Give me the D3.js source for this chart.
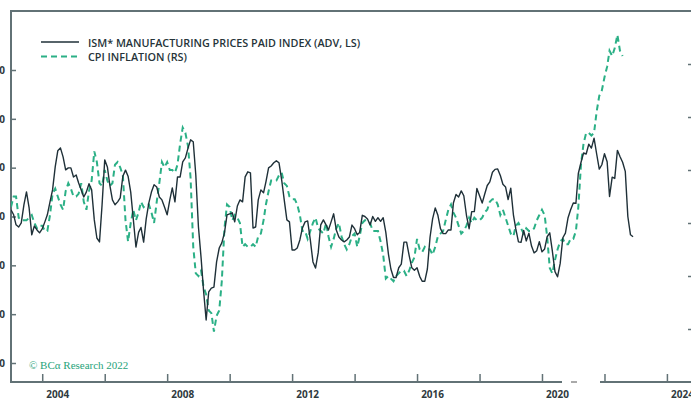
<!DOCTYPE html>
<html>
<head>
<meta charset="utf-8">
<script src="https://cdn.jsdelivr.net/npm/d3@7"></script>
<style>
  body { margin: 0; background: #fff; }
  svg { display: block; }
</style>
</head>
<body>
<div id="chart"></div>
<script>
// Monthly data, both series start Jan 2003
const seriesStart = new Date(2003, 0, 1);

// ISM manufacturing prices paid, advanced 3 months (left scale)
const ismValues = [
  62.7, 60.7, 56.6, 55.7, 57.4, 64.8, 70.1, 63.5, 52.5, 56.1, 54.5, 53.3,
  54.9, 57.8, 60.7, 66.0, 70.9, 80.3, 86.9, 88.1, 84.4, 79.1, 79.9, 79.9,
  76.2, 77.0, 73.8, 70.9, 68.0, 70.1, 73.4, 70.9, 58.6, 51.2, 49.6, 64.8,
  83.2, 80.3, 73.0, 66.8, 64.8, 66.0, 67.6, 76.5, 79.0, 76.5, 70.0, 59.0,
  47.5, 53.5, 55.5, 49.5, 59.0, 65.6, 70.0, 73.0, 72.1, 68.0, 66.8, 63.9,
  60.7, 66.8, 71.7, 66.0, 76.2, 76.2, 82.4, 84.0, 88.0, 91.4, 90.6, 77.0,
  55.7, 43.0, 29.9, 17.6, 29.1, 30.7, 31.1, 41.4, 47.1, 49.2, 53.3, 60.7,
  61.1, 61.5, 57.8, 64.3, 66.8, 66.0, 76.2, 78.3, 77.9, 55.3, 55.7, 66.8,
  70.9, 69.7, 74.2, 79.9, 80.7, 82.0, 82.8, 82.0, 75.0, 66.8, 58.6, 57.8,
  46.3, 46.3, 47.1, 50.4, 55.3, 57.8, 58.2, 50.4, 41.4, 38.9, 45.1, 56.6,
  58.6, 56.6, 54.5, 57.8, 61.1, 54.5, 51.6, 50.4, 49.6, 50.4, 51.6, 56.5,
  55.0, 52.5, 53.5, 60.5, 60.0, 59.0, 56.5, 60.0, 58.0, 59.5, 58.0, 59.5,
  53.5, 44.5, 38.5, 35.0, 35.0, 39.0, 40.5, 49.5, 49.5, 44.0, 39.0, 38.0,
  39.0, 35.5, 33.5, 33.5, 38.5, 51.5, 59.0, 63.5, 60.5, 55.0, 53.0, 53.0,
  54.5, 54.5, 65.5, 69.0, 68.0, 70.5, 68.5, 60.5, 55.0, 62.0, 62.0, 71.5,
  68.5, 65.5, 69.0, 72.7, 74.2, 78.1, 79.3, 79.5, 76.8, 73.2, 72.1, 66.9,
  71.6, 60.7, 54.9, 49.6, 49.4, 54.3, 50.0, 53.2, 47.9, 45.1, 46.0, 49.7,
  45.5, 46.7, 51.7, 53.3, 45.9, 37.4, 35.3, 40.8, 51.3, 53.2, 59.5, 62.8,
  65.5, 65.4, 77.6, 82.1, 86.0, 85.6, 89.6, 88.0, 92.1, 85.7, 79.4, 81.2,
  85.7, 82.4, 68.2, 76.1, 75.6, 87.1, 84.6, 82.2, 78.5, 60.0, 52.5, 51.7
];

// CPI inflation, % y/y (right scale)
const cpiValues = [
  2.6, 3.0, 3.0, 2.2, 2.1, 2.1, 2.1, 2.2, 2.3, 2.0, 1.8, 1.9,
  1.9, 1.7, 1.7, 2.3, 3.1, 3.3, 3.0, 2.7, 2.5, 3.2, 3.5, 3.3,
  3.0, 3.0, 3.1, 3.5, 2.8, 2.5, 3.2, 3.6, 4.7, 4.3, 3.5, 3.4,
  4.0, 3.6, 3.4, 3.5, 4.2, 4.3, 4.1, 3.8, 2.1, 1.3, 2.0, 2.5,
  2.1, 2.4, 2.8, 2.6, 2.7, 2.7, 2.4, 2.0, 2.8, 3.5, 4.3, 4.1,
  4.3, 4.0, 4.0, 3.9, 4.2, 5.0, 5.6, 5.4, 4.9, 3.7, 1.1, 0.1,
  0.0, 0.2, -0.4, -0.7, -1.3, -1.4, -2.1, -1.5, -1.3, -0.2, 1.8, 2.7,
  2.6, 2.1, 2.3, 2.2, 2.0, 1.1, 1.2, 1.1, 1.1, 1.2, 1.1, 1.5,
  1.6, 2.1, 2.7, 3.2, 3.6, 3.6, 3.6, 3.8, 3.9, 3.5, 3.4, 3.0,
  2.9, 2.9, 2.7, 2.3, 1.7, 1.7, 1.4, 1.7, 2.0, 2.2, 1.8, 1.7,
  1.6, 2.0, 1.5, 1.1, 1.4, 1.8, 2.0, 1.5, 1.2, 1.0, 1.2, 1.5,
  1.6, 1.1, 1.5, 2.0, 2.1, 2.1, 2.0, 1.7, 1.7, 1.7, 1.3, 0.8,
  -0.1, 0.0, -0.1, -0.2, 0.0, 0.1, 0.2, 0.2, 0.0, 0.2, 0.5, 0.7,
  1.4, 1.0, 0.9, 1.1, 1.0, 1.0, 0.8, 1.1, 1.5, 1.6, 1.7, 2.1,
  2.5, 2.7, 2.4, 2.2, 1.9, 1.6, 1.7, 1.9, 2.2, 2.0, 2.2, 2.1,
  2.1, 2.2, 2.4, 2.5, 2.8, 2.9, 2.9, 2.7, 2.3, 2.5, 2.2, 1.9,
  1.6, 1.5, 1.9, 2.0, 1.8, 1.6, 1.8, 1.7, 1.7, 1.8, 2.1, 2.3,
  2.5, 2.3, 1.5, 0.3, 0.1, 0.6, 1.0, 1.3, 1.4, 1.2, 1.2, 1.4,
  1.4, 1.7, 2.6, 4.2, 5.0, 5.4, 5.4, 5.3, 5.4, 6.2, 6.8, 7.0,
  7.5, 7.9, 8.5, 8.3, 8.6, 9.1, 8.5, 8.3
];

const leftTicks = [0, 20, 40, 60, 80, 100, 120];
const rightTicks = [-2, 0, 2, 4, 6, 8];
const yearLabels = [2004, 2008, 2012, 2016, 2020, 2024];
const legendLabels = ["ISM* MANUFACTURING PRICES PAID INDEX (ADV, LS)", "CPI INFLATION (RS)"];
const sourceNote = "\u00A9 BC\u03B1 Research 2022";

const width = 691, height = 401;
const plot = { left: 11, top: 11, right: 693, bottom: 382 };
const axisColor = "#627276";
const ismColor = "#1f3038";
const cpiColor = "#2bb086";

const svg = d3.select("#chart").append("svg")
  .attr("width", width)
  .attr("height", height);

const x = d3.scaleTime()
  .domain([new Date(2003, 0, 1), new Date(2024, 10, 1)])
  .range([plot.left, plot.right]);

// left scale is only anchored at its tick values
const yLeft = d3.scaleLinear().domain([0, 120]).range([363, 70]);
const yRight = d3.scaleLinear().domain([-4, 10]).range([plot.bottom, plot.top]);

const ism = ismValues.map((v, i) => ({ date: d3.timeMonth.offset(seriesStart, i), value: v }));
const cpi = cpiValues.map((v, i) => ({ date: d3.timeMonth.offset(seriesStart, i), value: v }));

svg.append("clipPath").attr("id", "plot-clip")
  .append("rect")
  .attr("x", plot.left).attr("y", plot.top)
  .attr("width", plot.right - plot.left).attr("height", plot.bottom - plot.top);

// left axis, ticks point inward
const leftAxis = svg.append("g")
  .attr("transform", `translate(${plot.left},0)`)
  .call(d3.axisLeft(yLeft).tickValues(leftTicks).tickSize(-5).tickPadding(6));
leftAxis.select(".domain").remove();
leftAxis.selectAll("line").attr("stroke", axisColor).attr("stroke-width", 1.5);
leftAxis.selectAll("text")
  .attr("fill", "#2f3a3e")
  .style("font-family", "'Open Sans', sans-serif")
  .style("font-weight", 700)
  .style("font-size", "10px");

// right axis (mostly off the picture)
const rightAxis = svg.append("g")
  .attr("transform", `translate(${plot.right},0)`)
  .call(d3.axisRight(yRight).tickValues(rightTicks).tickSize(-5).tickFormat(""));
rightAxis.select(".domain").remove();
rightAxis.selectAll("line").attr("stroke", axisColor).attr("stroke-width", 1.5);

// bottom axis: ticks every 2 years, labels centred mid-year
const xTicks = d3.timeYear.every(2).range(new Date(2004, 0, 1), new Date(2025, 0, 1));
const bottomAxis = svg.append("g")
  .attr("transform", `translate(0,${plot.bottom})`)
  .call(d3.axisBottom(x).tickValues(xTicks).tickSize(-8).tickFormat(""));
bottomAxis.select(".domain").remove();
bottomAxis.selectAll("line").attr("stroke", axisColor).attr("stroke-width", 1.5);

svg.append("g")
  .selectAll("text")
  .data(yearLabels)
  .join("text")
  .attr("x", d => x(new Date(d, 6, 1)))
  .attr("y", 398)
  .attr("text-anchor", "middle")
  .attr("fill", "#2f3a3e")
  .style("font-family", "'Open Sans', sans-serif")
  .style("font-weight", 700)
  .style("font-size", "10px")
  .text(d => d);

// frame
svg.append("path")
  .attr("d", `M${plot.right},${plot.top}H${plot.left}V${plot.bottom}H${plot.right}`)
  .attr("fill", "none")
  .attr("stroke", axisColor)
  .attr("stroke-width", 2);

// blank patch on the bottom axis, as in the source picture
svg.append("rect")
  .attr("x", 562).attr("y", 378).attr("width", 38).attr("height", 8)
  .attr("fill", "#fff");
svg.append("line")
  .attr("x1", 571).attr("x2", 577).attr("y1", 382).attr("y2", 382)
  .attr("stroke", "#555").attr("stroke-width", 1);

const line = y => d3.line().x(d => x(d.date)).y(d => y(d.value));

const lines = svg.append("g").attr("clip-path", "url(#plot-clip)");

lines.append("path")
  .datum(cpi)
  .attr("fill", "none")
  .attr("stroke", cpiColor)
  .attr("stroke-width", 2)
  .attr("stroke-dasharray", "6,4")
  .attr("d", line(yRight));

lines.append("path")
  .datum(ism)
  .attr("fill", "none")
  .attr("stroke", ismColor)
  .attr("stroke-width", 1.4)
  .attr("stroke-linejoin", "round")
  .attr("d", line(yLeft));

// legend
const legend = svg.append("g");
legendLabels.forEach((label, i) => {
  const ly = 42 + i * 14.5;
  legend.append("line")
    .attr("x1", 41).attr("x2", 79)
    .attr("y1", ly).attr("y2", ly)
    .attr("stroke", i === 0 ? ismColor : cpiColor)
    .attr("stroke-width", i === 0 ? 1.4 : 2)
    .attr("stroke-dasharray", i === 0 ? null : "6,4");
  legend.append("text")
    .attr("x", 88).attr("y", ly + 4.5)
    .attr("fill", "#26343a")
    .style("font-family", "'Open Sans', sans-serif")
    .style("font-weight", 600)
    .style("font-size", "10.8px")
    .text(label);
});

svg.append("text")
  .attr("x", 29).attr("y", 369)
  .attr("fill", "#1fa37a")
  .style("font-family", "'Liberation Serif', serif")
  .style("font-size", "11px")
  .text(sourceNote);
</script>
</body>
</html>
